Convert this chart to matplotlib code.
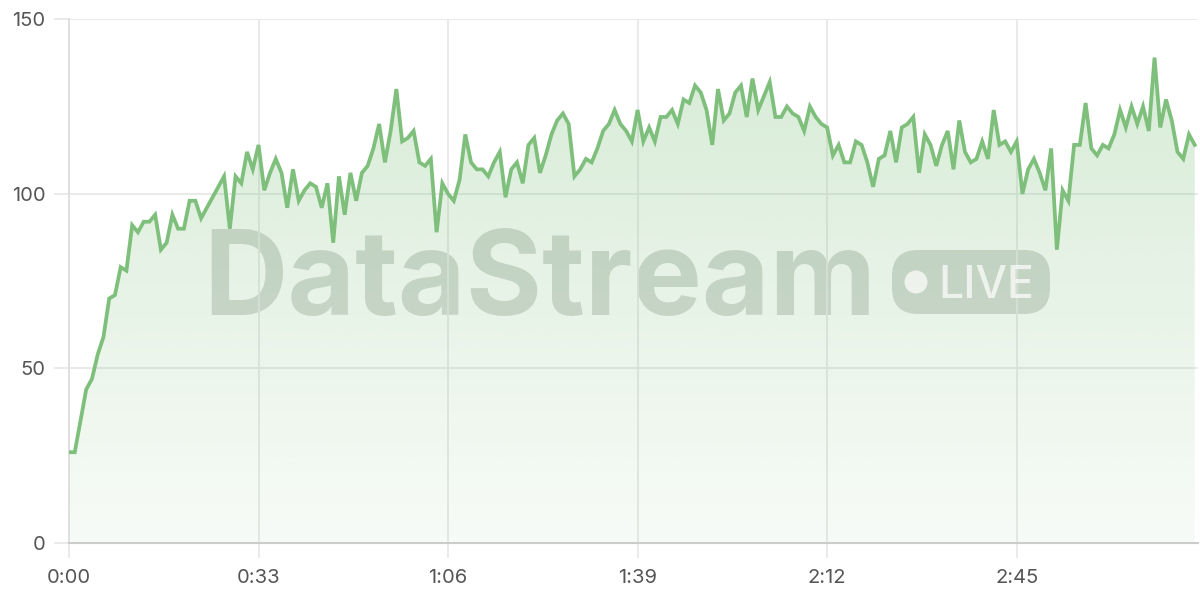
import matplotlib

matplotlib.use("Agg")
import matplotlib.pyplot as plt
import numpy as np
from matplotlib.patches import FancyBboxPatch, Circle, Polygon
from matplotlib.ticker import FuncFormatter, FixedLocator

plt.rcParams["font.family"] = ["Inter", "DejaVu Sans"]

# values, one per second
values = [
    26, 26, 35, 44, 47, 54, 59, 70, 71, 79, 78, 91, 89, 92, 92, 94, 84, 86, 94, 90,
    90, 98, 98, 93, 96, 99, 102, 105, 90, 105, 103, 112, 107, 114, 101, 106, 110, 106, 96, 107,
    98, 101, 103, 102, 96, 103, 86, 105, 94, 106, 98, 106, 108, 113, 120, 109, 118, 130, 115, 116,
    118, 109, 108, 110, 89, 103, 100, 98, 104, 117, 109, 107, 107, 105, 109, 112, 99, 107, 109, 103,
    114, 116, 106, 111, 117, 121, 123, 120, 105, 107, 110, 109, 113, 118, 120, 124, 120, 118, 115, 124,
    115, 119, 115, 122, 122, 124, 120, 127, 126, 131, 129, 124, 114, 130, 121, 123, 129, 131, 122, 133,
    124, 128, 132, 122, 122, 125, 123, 122, 118, 125, 122, 120, 119, 111, 114, 109, 109, 115, 114, 109,
    102, 110, 111, 118, 109, 119, 120, 122, 106, 117, 114, 108, 114, 118, 107, 121, 112, 109, 110, 115,
    110, 124, 114, 115, 112, 115, 100, 107, 110, 106, 101, 113, 84, 101, 98, 114, 114, 126, 113, 111,
    114, 113, 117, 124, 119, 125, 120, 125, 118, 139, 119, 127, 121, 112, 110, 117, 114,
]
seconds = list(range(len(values)))
tick_seconds = [0, 33, 66, 99, 132, 165]
y_ticks = [0, 50, 100, 150]

line_color = "#7dbf7b"
grid_color = "#e8e8e8"
label_color = "#555555"
mark_color = "#7f897f"

fig = plt.figure(figsize=(12, 6), dpi=100)
ax = fig.add_axes([0.0575, 0.095, 0.9405, 0.873])

x = np.array(seconds, dtype=float)
y = np.array(values, dtype=float)

# gradient under the line, clipped to the area polygon
grad = np.linspace(0.0, 1.0, 256).reshape(-1, 1)
rgba = np.zeros((256, 1, 4))
rgba[..., 0] = 0x7d / 255
rgba[..., 1] = 0xbf / 255
rgba[..., 2] = 0x7b / 255
rgba[..., 3] = 0.06 + 0.26 * grad
img = ax.imshow(rgba, extent=[x[0], x[-1], 0, 150], origin="lower",
                aspect="auto", zorder=1, interpolation="bilinear")
poly = Polygon(np.column_stack([np.r_[x[0], x, x[-1]], np.r_[0, y, 0]]),
               closed=True, facecolor="none", edgecolor="none")
ax.add_patch(poly)
img.set_clip_path(poly)

# watermark (figure inches so the badge keeps its shape)
inch = fig.dpi_scale_trans
fig.text(5.40, 2.85, "DataStream", transform=inch, ha="center",
         va="baseline", fontsize=84, fontweight="bold", color=mark_color,
         alpha=0.32, zorder=2)
fig.patches.append(FancyBboxPatch((8.92, 2.86), 1.58, 0.64, transform=inch,
                                  boxstyle="round,pad=0,rounding_size=0.26",
                                  facecolor=mark_color, edgecolor="none",
                                  alpha=0.32, zorder=2, figure=fig))
fig.patches.append(Circle((9.16, 3.18), 0.115, transform=inch,
                          facecolor="white", edgecolor="none", alpha=0.7,
                          zorder=3, figure=fig))
fig.text(9.865, 3.18, "LIVE", transform=inch, ha="center", va="center_baseline",
         fontsize=32, fontweight="medium", color="white", alpha=0.7, zorder=3)

ax.plot(x, y, color=line_color, lw=2.7, solid_joinstyle="miter", zorder=4)
ax.set_zorder(3)
ax.patch.set_visible(False)

ax.set_xlim(0, 196.5)
ax.set_ylim(0, 150)
ax.xaxis.set_major_locator(FixedLocator(tick_seconds))
ax.xaxis.set_major_formatter(FuncFormatter(lambda v, _: f"{int(v) // 60}:{int(v) % 60:02d}"))
ax.set_yticks(y_ticks)

ax.grid(True, color=grid_color, lw=1.3, zorder=0)
ax.set_axisbelow(True)
for side in ["top", "right"]:
    ax.spines[side].set_visible(False)
ax.spines["left"].set_color("#dddddd")
ax.spines["left"].set_linewidth(1.3)
ax.spines["bottom"].set_color("#cccccc")
ax.spines["bottom"].set_linewidth(1.5)

ax.tick_params(axis="both", colors=grid_color, width=1.3, length=11,
               labelcolor=label_color, labelsize=14.5, pad=8)
ax.tick_params(axis="y", pad=6)

fig.savefig("out.png", dpi=100)
